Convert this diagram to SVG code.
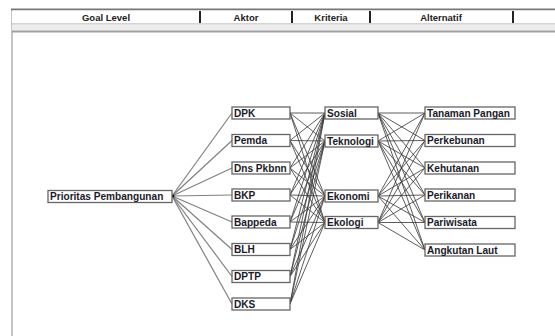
<svg xmlns="http://www.w3.org/2000/svg" width="555" height="336" viewBox="0 0 555 336">
<style>
.node rect{fill:#fff;stroke:#666;stroke-width:1.3}
.node text{font-family:"Liberation Sans",Arial,sans-serif;font-size:10.1px;fill:#1a1a2a;font-weight:bold}
.hdr{font-family:"Liberation Sans",Arial,sans-serif;font-size:9.5px;font-weight:bold;fill:#222;text-anchor:middle}
.c1 line{stroke:#808080;stroke-width:1.2}
.c2 line{stroke:#333;stroke-width:0.8}
</style>
<rect x="0" y="0" width="555" height="336" fill="#fff"/>
<!-- frame -->
<rect x="11" y="9" width="2" height="327" fill="#c4c4c4"/>
<rect x="11" y="8.5" width="544" height="2" fill="#777"/>
<rect x="12" y="10.5" width="543" height="13" fill="#fff"/>
<rect x="12" y="23.5" width="543" height="1" fill="#aaa"/>
<rect x="12" y="24.5" width="543" height="6" fill="#ececec"/>
<rect x="12" y="30.5" width="543" height="2" fill="#a0a0a0"/>
<g fill="#222">
<rect x="199" y="11" width="2" height="12"/>
<rect x="291" y="11" width="2" height="12"/>
<rect x="369" y="11" width="2" height="12"/>
<rect x="512" y="11" width="2" height="12"/>
</g>
<text class="hdr" x="106" y="20.5">Goal Level</text>
<text class="hdr" x="246" y="20.5">Aktor</text>
<text class="hdr" x="331" y="20.5">Kriteria</text>
<text class="hdr" x="441" y="20.5">Alternatif</text>
<!-- connectors -->
<g id="connectors">
<g class="c1">
<line x1="172" y1="196" x2="232" y2="113"/>
<line x1="172" y1="196" x2="232" y2="140.5"/>
<line x1="172" y1="196" x2="232" y2="168"/>
<line x1="172" y1="196" x2="232" y2="195"/>
<line x1="172" y1="196" x2="232" y2="222"/>
<line x1="172" y1="196" x2="232" y2="249.5"/>
<line x1="172" y1="196" x2="232" y2="276.5"/>
<line x1="172" y1="196" x2="232" y2="304"/>
</g>
<g class="c2">
<line x1="290" y1="113" x2="325" y2="113"/><line x1="290" y1="113" x2="325" y2="141"/><line x1="290" y1="113" x2="325" y2="196"/><line x1="290" y1="113" x2="325" y2="222.5"/>
<line x1="290" y1="140.5" x2="325" y2="113"/><line x1="290" y1="140.5" x2="325" y2="141"/><line x1="290" y1="140.5" x2="325" y2="196"/><line x1="290" y1="140.5" x2="325" y2="222.5"/>
<line x1="290" y1="168" x2="325" y2="113"/><line x1="290" y1="168" x2="325" y2="141"/><line x1="290" y1="168" x2="325" y2="196"/><line x1="290" y1="168" x2="325" y2="222.5"/>
<line x1="290" y1="195" x2="325" y2="113"/><line x1="290" y1="195" x2="325" y2="141"/><line x1="290" y1="195" x2="325" y2="196"/><line x1="290" y1="195" x2="325" y2="222.5"/>
<line x1="290" y1="222" x2="325" y2="113"/><line x1="290" y1="222" x2="325" y2="141"/><line x1="290" y1="222" x2="325" y2="196"/><line x1="290" y1="222" x2="325" y2="222.5"/>
<line x1="290" y1="249.5" x2="325" y2="113"/><line x1="290" y1="249.5" x2="325" y2="141"/><line x1="290" y1="249.5" x2="325" y2="196"/><line x1="290" y1="249.5" x2="325" y2="222.5"/>
<line x1="290" y1="276.5" x2="325" y2="113"/><line x1="290" y1="276.5" x2="325" y2="141"/><line x1="290" y1="276.5" x2="325" y2="196"/><line x1="290" y1="276.5" x2="325" y2="222.5"/>
<line x1="290" y1="304" x2="325" y2="113"/><line x1="290" y1="304" x2="325" y2="141"/><line x1="290" y1="304" x2="325" y2="196"/><line x1="290" y1="304" x2="325" y2="222.5"/>
<line x1="378" y1="113" x2="425" y2="113"/><line x1="378" y1="113" x2="425" y2="140.5"/><line x1="378" y1="113" x2="425" y2="168"/><line x1="378" y1="113" x2="425" y2="195"/><line x1="378" y1="113" x2="425" y2="222.5"/><line x1="378" y1="113" x2="425" y2="250"/>
<line x1="378" y1="141" x2="425" y2="113"/><line x1="378" y1="141" x2="425" y2="140.5"/><line x1="378" y1="141" x2="425" y2="168"/><line x1="378" y1="141" x2="425" y2="195"/><line x1="378" y1="141" x2="425" y2="222.5"/><line x1="378" y1="141" x2="425" y2="250"/>
<line x1="378" y1="196" x2="425" y2="113"/><line x1="378" y1="196" x2="425" y2="140.5"/><line x1="378" y1="196" x2="425" y2="168"/><line x1="378" y1="196" x2="425" y2="195"/><line x1="378" y1="196" x2="425" y2="222.5"/><line x1="378" y1="196" x2="425" y2="250"/>
<line x1="378" y1="222.5" x2="425" y2="113"/><line x1="378" y1="222.5" x2="425" y2="140.5"/><line x1="378" y1="222.5" x2="425" y2="168"/><line x1="378" y1="222.5" x2="425" y2="195"/><line x1="378" y1="222.5" x2="425" y2="222.5"/><line x1="378" y1="222.5" x2="425" y2="250"/>
</g>
<circle cx="173" cy="196" r="1.6" fill="#111"/>
</g>
<!-- nodes -->
<g id="goal" class="node"><rect x="48" y="190.5" width="124" height="12"/><text x="50" y="200">Prioritas Pembangunan</text></g>
<g id="a-dpk" class="node"><rect x="232" y="107" width="58" height="12"/><text x="234" y="116.5">DPK</text></g>
<g id="a-pemda" class="node"><rect x="232" y="134.5" width="58" height="12"/><text x="234" y="144">Pemda</text></g>
<g id="a-dns" class="node"><rect x="232" y="162" width="58" height="12"/><text x="234" y="171.5">Dns Pkbnn</text></g>
<g id="a-bkp" class="node"><rect x="232" y="189" width="58" height="12"/><text x="234" y="198.5">BKP</text></g>
<g id="a-bappeda" class="node"><rect x="232" y="216" width="58" height="12"/><text x="234" y="225.5">Bappeda</text></g>
<g id="a-blh" class="node"><rect x="232" y="243.5" width="58" height="12"/><text x="234" y="253">BLH</text></g>
<g id="a-dptp" class="node"><rect x="232" y="270.5" width="58" height="12"/><text x="234" y="280">DPTP</text></g>
<g id="a-dks" class="node"><rect x="232" y="298" width="58" height="12"/><text x="234" y="307.5">DKS</text></g>
<g id="k-sosial" class="node"><rect x="325" y="107" width="53" height="12"/><text x="327" y="116.5">Sosial</text></g>
<g id="k-teknologi" class="node"><rect x="325" y="135" width="53" height="12"/><text x="327" y="144.5">Teknologi</text></g>
<g id="k-ekonomi" class="node"><rect x="325" y="190" width="53" height="12"/><text x="327" y="199.5">Ekonomi</text></g>
<g id="k-ekologi" class="node"><rect x="325" y="216.5" width="53" height="12"/><text x="327" y="226">Ekologi</text></g>
<g id="t-tanaman" class="node"><rect x="425" y="107" width="90" height="12"/><text x="427" y="116.5">Tanaman Pangan</text></g>
<g id="t-perkebunan" class="node"><rect x="425" y="134.5" width="90" height="12"/><text x="427" y="144">Perkebunan</text></g>
<g id="t-kehutanan" class="node"><rect x="425" y="162" width="90" height="12"/><text x="427" y="171.5">Kehutanan</text></g>
<g id="t-perikanan" class="node"><rect x="425" y="189" width="90" height="12"/><text x="427" y="198.5">Perikanan</text></g>
<g id="t-pariwisata" class="node"><rect x="425" y="216.5" width="90" height="12"/><text x="427" y="226">Pariwisata</text></g>
<g id="t-angkutan" class="node"><rect x="425" y="244" width="90" height="12"/><text x="427" y="253.5">Angkutan Laut</text></g>
</svg>
